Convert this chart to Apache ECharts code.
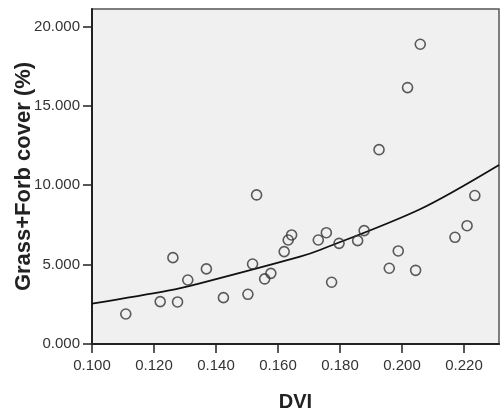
<!DOCTYPE html>
<html>
<head>
<meta charset="utf-8">
<script src="https://cdn.jsdelivr.net/npm/echarts@6/dist/echarts.min.js"></script>
<style>html,body{margin:0;padding:0;background:#fff}#c{width:501px;height:413px}</style>
</head>
<body>
<div id="c"></div>
<script>
// Observed points: DVI vs Grass+Forb cover (%)
const dvi = [0.1109,0.1261,0.1220,0.1276,0.1309,0.1369,0.1424,0.1503,0.1518,0.1531,0.1557,0.1577,0.1620,0.1633,0.1644,0.1730,0.1756,0.1773,0.1797,0.1857,0.1878,0.1988,0.1959,0.2044,0.2171,0.2210,0.2235,0.2059,0.2018,0.1926];
const cover = [1.89,5.44,2.67,2.65,4.03,4.73,2.92,3.13,5.04,9.39,4.10,4.45,5.82,6.55,6.87,6.55,7.01,3.89,6.34,6.51,7.14,5.86,4.77,4.64,6.72,7.45,9.35,18.88,16.15,12.24];
// Fit curve
const fitX = [0.100,0.1245,0.1348,0.1671,0.1735,0.2058,0.2313];
const fitY = [2.54,3.36,3.82,5.50,5.92,8.49,11.28];
// Tick labels
const xTicks = [0.10,0.12,0.14,0.16,0.18,0.20,0.22];
const yTicks = [0,5,10,15,20];

const pts = dvi.map((x,i)=>[x,cover[i]]);
const fit = fitX.map((x,i)=>[x,fitY[i]]);

const chart = echarts.init(document.getElementById('c'), null, {renderer:'canvas'});
const font = 'Liberation Sans, Arial, sans-serif';
chart.setOption({
  animation:false,
  grid:{left:92,right:2,top:9,bottom:69,outerBoundsMode:'none',containLabel:false,show:true,backgroundColor:'#f0f0f0',borderColor:'#555',borderWidth:1.5},
  xAxis:{
    type:'value',min:0.1,max:0.2313,
    name:'DVI',nameLocation:'middle',nameGap:48,nameMoveOverlap:false,
    nameTextStyle:{fontFamily:font,fontSize:20,fontWeight:'bold',color:'#222'},
    axisLine:{show:true,onZero:false,lineStyle:{color:'#222',width:2}},
    axisTick:{show:true,length:9,lineStyle:{color:'#222',width:1.5},customValues:xTicks},
    axisLabel:{fontFamily:font,fontSize:15,color:'#333',margin:14,customValues:xTicks,formatter:v=>v.toFixed(3)},
    splitLine:{show:false}
  },
  yAxis:{
    type:'value',min:0,max:21.1,
    name:'Grass+Forb cover (%)',nameLocation:'middle',nameGap:57,nameRotate:90,nameMoveOverlap:false,
    nameTextStyle:{fontFamily:font,fontSize:22,fontWeight:'bold',color:'#222'},
    axisLine:{show:true,onZero:false,lineStyle:{color:'#222',width:2}},
    axisTick:{show:true,length:9,lineStyle:{color:'#222',width:1.5},customValues:yTicks},
    axisLabel:{fontFamily:font,fontSize:15,color:'#333',margin:12,customValues:yTicks,formatter:v=>v.toFixed(3)},
    splitLine:{show:false}
  },
  series:[
    {type:'line',data:fit,smooth:0.3,symbol:'none',lineStyle:{color:'#111',width:1.8},z:2},
    {type:'scatter',data:pts,symbol:'circle',symbolSize:10,itemStyle:{color:'rgba(0,0,0,0)',borderColor:'#333',borderWidth:1.6},z:3}
  ]
});
</script>
</body>
</html>
